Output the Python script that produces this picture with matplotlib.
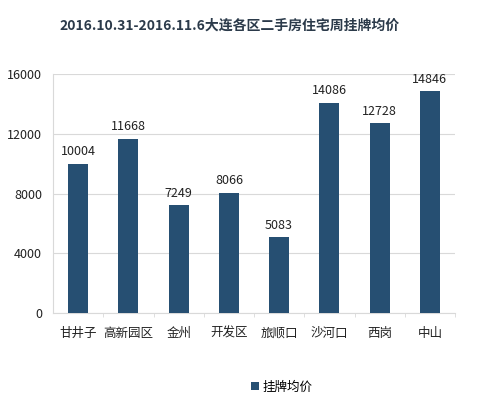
import matplotlib.pyplot as plt

plt.rcParams['font.family'] = ['Noto Sans CJK SC', 'DejaVu Sans']

districts = ['甘井子', '高新园区', '金州', '开发区', '旅顺口', '沙河口', '西岗', '中山']
prices = [10004, 11668, 7249, 8066, 5083, 14086, 12728, 14846]
yticks = [0, 4000, 8000, 12000, 16000]

bar_color = '#264f72'

fig = plt.figure(figsize=(4.82, 3.99), dpi=100)
ax = fig.add_axes([0.110, 0.2155, 0.834, 0.599])

x = range(len(districts))
bars = ax.bar(x, prices, width=0.4, color=bar_color, zorder=3, label='挂牌均价')
for xi, v in zip(x, prices):
    ax.text(xi, v + 350, str(v), ha='center', va='bottom', fontsize=9, color='#222222')

ax.set_xlim(-0.5, len(districts) - 0.5)
ax.set_ylim(0, 16000)
ax.set_yticks(yticks)
ax.set_yticklabels([str(t) for t in yticks], fontsize=9, color='#222222')
ax.set_xticks(list(x))
ax.set_xticklabels(districts, fontsize=9, color='#222222')
ax.set_xticks([i + 0.5 for i in range(len(districts))], minor=True)
ax.tick_params(axis='both', which='major', length=0, pad=8)
ax.tick_params(axis='x', which='major', pad=10)
ax.tick_params(axis='x', which='minor', length=3, color='#d9d9d9')
ax.grid(axis='y', color='#d9d9d9', linewidth=0.8, zorder=0)
for s in ['top', 'right']:
    ax.spines[s].set_visible(False)
ax.spines['left'].set_color('#d9d9d9')
ax.spines['bottom'].set_color('#d9d9d9')

fig.text(0.477, 0.935, '2016.10.31-2016.11.6大连各区二手房住宅周挂牌均价',
         ha='center', va='center', fontsize=10, fontweight='bold', color='#2b3a4a')

fig.legend(handles=[bars], loc='center', bbox_to_anchor=(0.585, 0.03),
           frameon=False, fontsize=9, handlelength=0.6, handleheight=0.6,
           handletextpad=0.3)

fig.savefig('out.png', dpi=100)
